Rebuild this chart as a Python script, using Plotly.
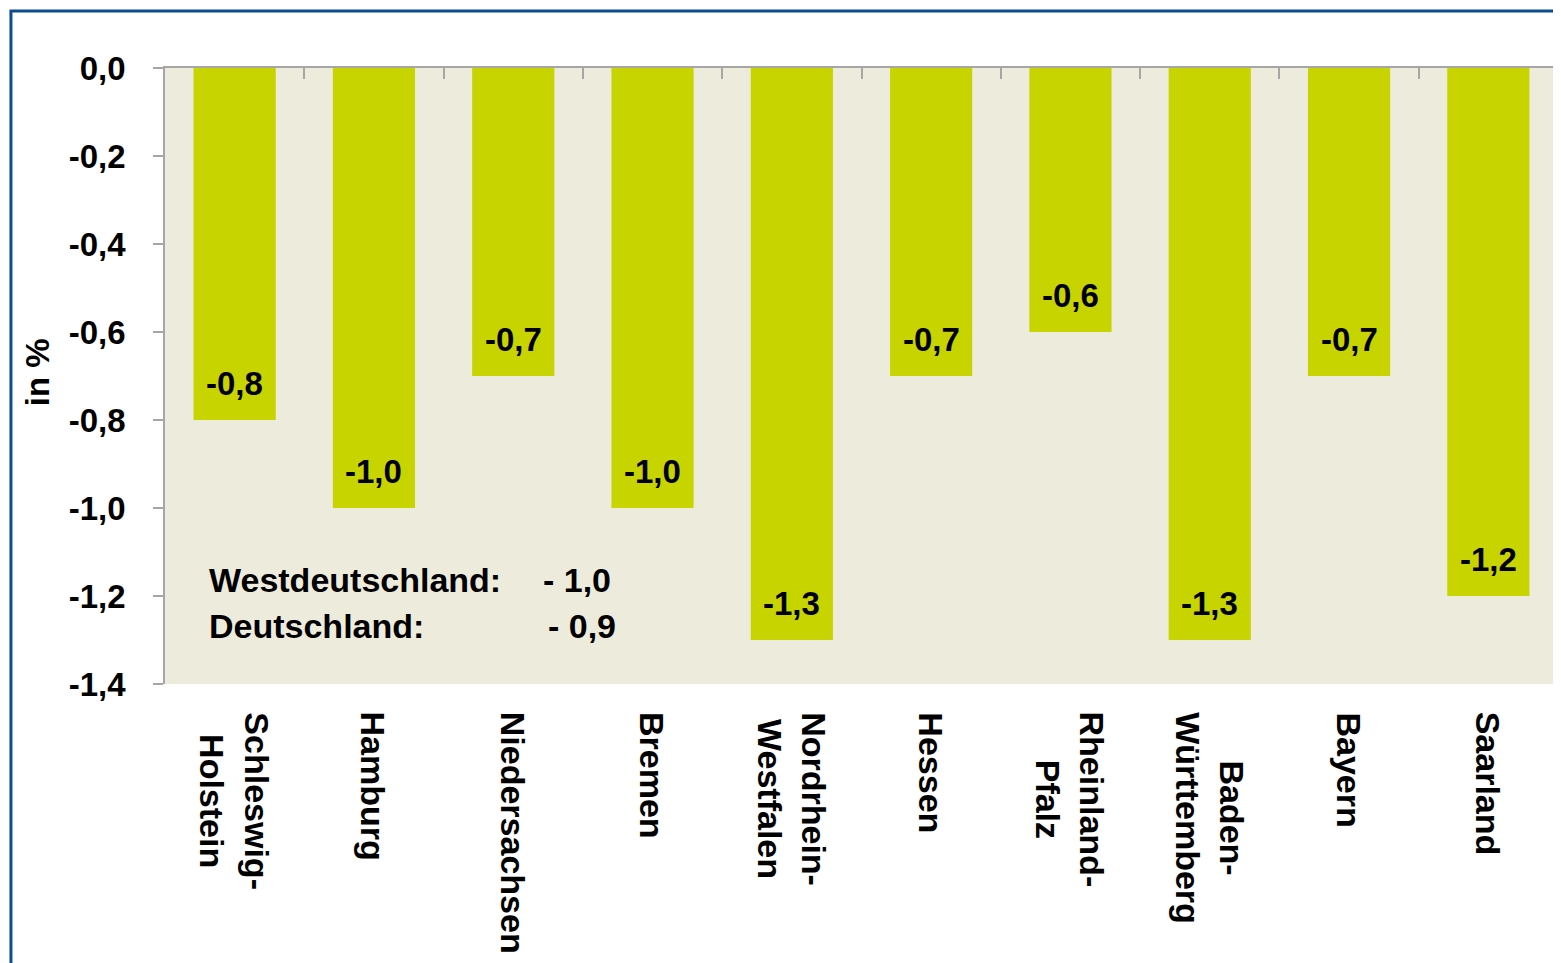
import plotly.graph_objects as go

categories = ["Schleswig-\nHolstein", "Hamburg", "Niedersachsen", "Bremen",
              "Nordrhein-\nWestfalen", "Hessen", "Rheinland-\nPfalz",
              "Baden-\nWürttemberg", "Bayern", "Saarland"]
values = [-0.8, -1.0, -0.7, -1.0, -1.3, -0.7, -0.6, -1.3, -0.7, -1.2]
value_labels = ["-0,8", "-1,0", "-0,7", "-1,0", "-1,3", "-0,7", "-0,6", "-1,3", "-0,7", "-1,2"]
y_tickvals = [0.0, -0.2, -0.4, -0.6, -0.8, -1.0, -1.2, -1.4]
y_ticktext = ["0,0", "-0,2", "-0,4", "-0,6", "-0,8", "-1,0", "-1,2", "-1,4"]
summary_labels = ["Westdeutschland:", "Deutschland:"]
summary_values = ["- 1,0", "- 0,9"]

FONT = "Liberation Sans, Arial, sans-serif"
BAR = "#C8D400"
BG = "#EDECDC"
AXIS = "#A6A6A6"

n = len(categories)
x_idx = list(range(n))
boundaries = [i - 0.5 for i in range(n + 1)]

fig = go.Figure()
fig.add_trace(go.Bar(
    x=x_idx, y=values, marker=dict(color=BAR, line=dict(width=0)),
    width=0.59, hoverinfo="skip", showlegend=False,
))

annotations = []
for i, (v, t) in enumerate(zip(values, value_labels)):
    annotations.append(dict(
        x=i, y=v, xref="x", yref="y", text=t, showarrow=False,
        yanchor="middle", yshift=37,
        font=dict(family=FONT, size=33, color="black", weight="bold"),
    ))
for i, c in enumerate(categories):
    annotations.append(dict(
        x=i, y=0, xref="x", yref="paper", text=c.replace("\n", "<br>"),
        showarrow=False, textangle=90, yanchor="top", xanchor="center",
        yshift=-26, align="center",
        font=dict(family=FONT, size=34, color="black", weight="bold"),
    ))
# summary text
sum_y = [-1.1636, -1.268]
sum_val_x = [0.2700, 0.2736]
for lab, val, yy, vx in zip(summary_labels, summary_values, sum_y, sum_val_x):
    annotations.append(dict(
        x=0.0302, y=yy, xref="paper", yref="y", text=lab, showarrow=False,
        xanchor="left", yanchor="middle",
        font=dict(family=FONT, size=34, color="black", weight="bold"),
    ))
    annotations.append(dict(
        x=vx, y=yy, xref="paper", yref="y", text=val, showarrow=False,
        xanchor="left", yanchor="middle",
        font=dict(family=FONT, size=34, color="black", weight="bold"),
    ))
# y axis title
annotations.append(dict(
    x=-0.0919, y=0.506, xref="paper", yref="paper", text="in %",
    showarrow=False, textangle=-90, xanchor="center", yanchor="middle",
    font=dict(family=FONT, size=33, color="black", weight="bold"),
))

fig.update_layout(
    width=1553, height=955,
    margin=dict(l=157, r=3, t=60, b=279),
    paper_bgcolor="white", plot_bgcolor=BG,
    annotations=annotations,
    shapes=[dict(type="rect", xref="paper", yref="paper",
                 x0=-0.1106, x1=1.1, y0=-0.6, y1=1.0925,
                 line=dict(color="#0F4C8A", width=3), fillcolor="rgba(0,0,0,0)",
                 layer="above")],
)
fig.update_xaxes(
    range=[-0.5, n - 0.5], side="top", showticklabels=False,
    showline=True, linecolor=AXIS, linewidth=1.5,
    ticks="inside", ticklen=11, tickcolor=AXIS, tickwidth=1.5,
    tickvals=boundaries, showgrid=False, zeroline=False, fixedrange=True,
)
fig.update_yaxes(
    range=[-1.4, 0], tickvals=y_tickvals, ticktext=y_ticktext,
    showline=True, linecolor=AXIS, linewidth=1.5,
    ticks="outside", ticklen=10, tickcolor=AXIS, tickwidth=1.5,
    ticklabelstandoff=21, showgrid=False, zeroline=False,
    tickfont=dict(family=FONT, size=33, color="black", weight="bold"),
)

fig.write_html("out.html")
